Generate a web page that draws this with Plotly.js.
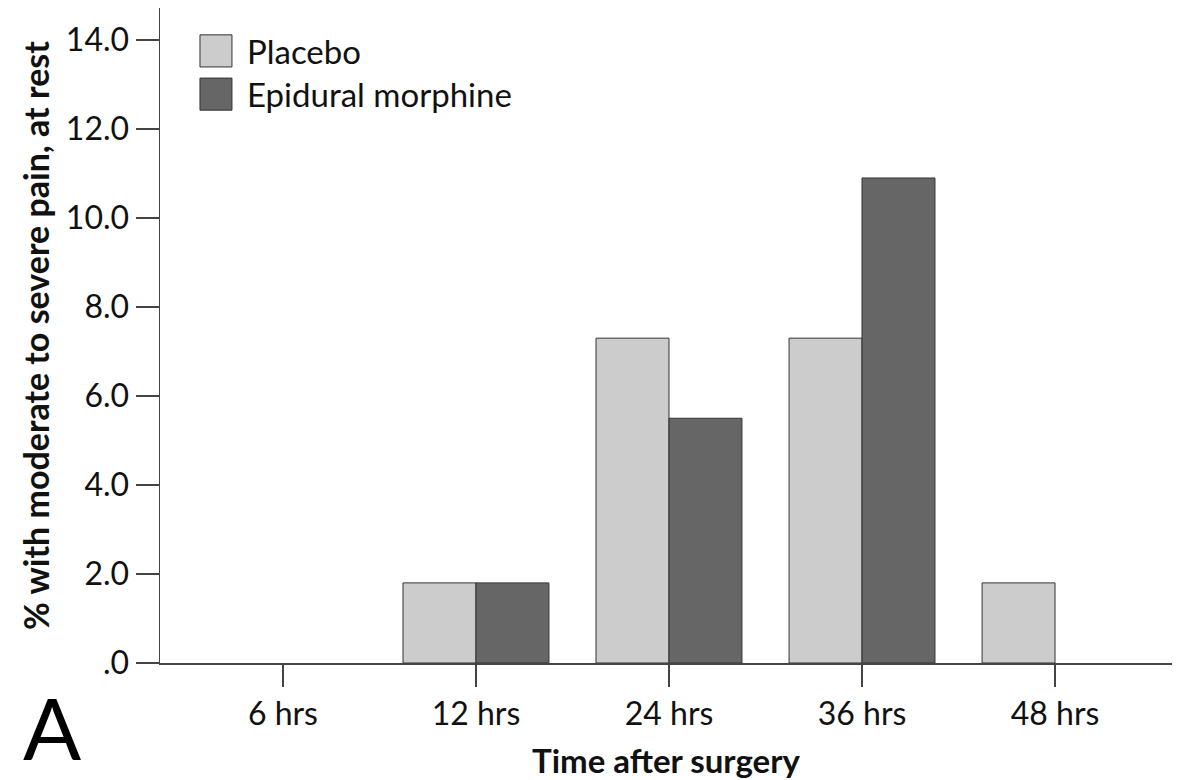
<!DOCTYPE html>
<html>
<head>
<meta charset="utf-8">
<script src="https://cdn.plot.ly/plotly-3.0.1.min.js"></script>
<style>html,body{margin:0;padding:0;background:#fff;}#chart{width:1181px;height:780px;}</style>
</head>
<body>
<div id="chart"></div>
<script>
const categories = ['6 hrs', '12 hrs', '24 hrs', '36 hrs', '48 hrs'];
const placebo = [0, 1.8, 7.3, 7.3, 1.8];
const epidural = [0, 1.8, 5.5, 10.9, 0];
const seriesNames = ['Placebo', 'Epidural morphine'];
const yTickVals = [0, 2, 4, 6, 8, 10, 12, 14];
const yTickText = ['.0', '2.0', '4.0', '6.0', '8.0', '10.0', '12.0', '14.0'];

const FONT = 'Lato, "Open Sans", sans-serif';
const colors = ['#cccccc', '#666666'];
const outline = v => v.map(d => (d > 0 ? 1 : 0));

const traces = [
  {type: 'bar', name: seriesNames[0], x: categories, y: placebo,
   marker: {color: colors[0], line: {color: '#333333', width: outline(placebo)}}, showlegend: false},
  {type: 'bar', name: seriesNames[1], x: categories, y: epidural,
   marker: {color: colors[1], line: {color: '#333333', width: outline(epidural)}}, showlegend: false}
];

const layout = {
  width: 1181, height: 780,
  margin: {l: 160, r: 9, t: 8, b: 117},
  paper_bgcolor: '#ffffff', plot_bgcolor: '#ffffff',
  barmode: 'group', bargap: 0.244, bargroupgap: 0,
  font: {family: FONT, color: '#111111'},
  xaxis: {
    type: 'category', range: [-0.637, 4.606],
    showline: true, linecolor: '#444444', linewidth: 1.5,
    ticks: 'outside', ticklen: 22, tickcolor: '#444444', tickwidth: 1.5,
    tickfont: {family: FONT, size: 32, color: '#111111'},
    showgrid: false, zeroline: false,
    title: {text: 'Time after surgery', font: {family: FONT, size: 33, color: '#111111', weight: 'bold'}, standoff: 20}
  },
  yaxis: {
    range: [0, 14.72], tickvals: yTickVals, ticktext: yTickText,
    showline: true, linecolor: '#444444', linewidth: 1.5,
    ticks: 'outside', ticklen: 23, tickcolor: '#444444', tickwidth: 1.5,
    tickfont: {family: FONT, size: 32, color: '#111111'},
    showgrid: false, zeroline: false,
    title: {text: '% with moderate to severe pain, at rest', font: {family: FONT, size: 34, color: '#111111', weight: 'bold'}, standoff: 6}
  },
  shapes: [
    {type: 'rect', xref: 'paper', yref: 'paper', x0: 0.0395, x1: 0.0711, y0: 0.910, y1: 0.959,
     fillcolor: colors[0], line: {color: '#333333', width: 1}},
    {type: 'rect', xref: 'paper', yref: 'paper', x0: 0.0395, x1: 0.0711, y0: 0.844, y1: 0.893,
     fillcolor: colors[1], line: {color: '#333333', width: 1}}
  ],
  annotations: [
    {xref: 'paper', yref: 'paper', x: 0.084, y: 0.934, xanchor: 'left', yanchor: 'middle', showarrow: false,
     text: seriesNames[0], font: {family: FONT, size: 33, color: '#111111'}},
    {xref: 'paper', yref: 'paper', x: 0.084, y: 0.869, xanchor: 'left', yanchor: 'middle', showarrow: false,
     text: seriesNames[1], font: {family: FONT, size: 33, color: '#111111'}},
    {xref: 'paper', yref: 'paper', x: -0.137, y: -0.097, xanchor: 'left', yanchor: 'middle', showarrow: false,
     text: 'A', font: {family: FONT, size: 86, color: '#000000'}}
  ]
};

Plotly.newPlot('chart', traces, layout, {displayModeBar: false, staticPlot: true});
</script>
</body>
</html>
